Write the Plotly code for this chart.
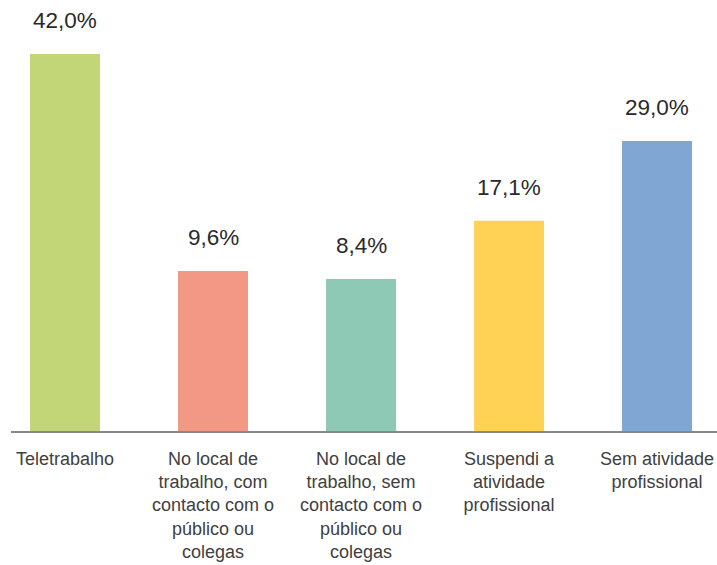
import plotly.graph_objects as go

categories = ["Teletrabalho",
              "No local de<br>trabalho, com<br>contacto com o<br>público ou<br>colegas",
              "No local de<br>trabalho, sem<br>contacto com o<br>público ou<br>colegas",
              "Suspendi a<br>atividade<br>profissional",
              "Sem atividade<br>profissional"]
values = [42.0, 9.6, 8.4, 17.1, 29.0]
labels = ["42,0%", "9,6%", "8,4%", "17,1%", "29,0%"]
colors = ["#C3D677", "#F29885", "#8DC9B5", "#FFD256", "#80A6D3"]

AXIS_MIN = -14.3
AXIS_MAX = 50.07

x = list(range(len(categories)))
fig = go.Figure(go.Bar(
    x=x, y=[v - AXIS_MIN for v in values], base=AXIS_MIN,
    marker=dict(color=colors, line=dict(width=0)),
    width=0.473, hoverinfo="skip",
))
for xi, v, t in zip(x, values, labels):
    fig.add_annotation(x=xi, y=v, text=t, showarrow=False, yanchor="bottom",
                       yshift=19, font=dict(size=22.5, color="#2a2a2a"))

fig.update_layout(
    width=717, height=565, margin=dict(l=11, r=0, t=0, b=134),
    paper_bgcolor="white", plot_bgcolor="white", showlegend=False,
    font=dict(family="Liberation Sans, Arial, sans-serif", color="#404040"),
    xaxis=dict(range=[-0.365, 4.405], tickvals=x, ticktext=categories,
               showline=True, linecolor="#898989", linewidth=2,
               showgrid=False, zeroline=False, ticks="", automargin=False,
               tickfont=dict(size=18, color="#404040"), ticklabelstandoff=10,
               tickangle=0),
    yaxis=dict(range=[AXIS_MIN, AXIS_MAX], visible=False, showgrid=False,
               zeroline=False, automargin=False),
)
fig.write_html("out.html", config={"displayModeBar": False},
               post_script="document.body.style.margin='0';document.body.style.overflow='hidden';")
